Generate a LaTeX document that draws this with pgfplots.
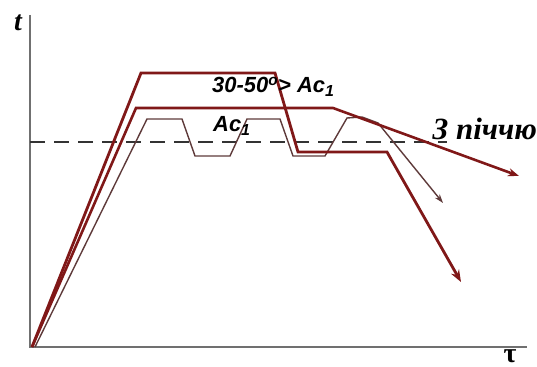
\documentclass[border=0pt]{standalone}
\usepackage{fontspec}
\setmainfont{Liberation Serif}
\newfontfamily\arialf{Liberation Sans}
\usepackage{pgfplots}
\pgfplotsset{compat=1.18}
\usetikzlibrary{arrows.meta}
\definecolor{dred}{HTML}{801818}
\definecolor{thinc}{HTML}{5E3A3A}
\definecolor{axc}{HTML}{707070}
\begin{document}
\begin{tikzpicture}
\begin{axis}[
  scale only axis, width=537bp, height=367bp,
  xmin=0, xmax=537, ymin=0, ymax=367,
  hide axis, clip=false,
]
\coordinate (SW) at (axis cs:0,0);
\coordinate (NE) at (axis cs:537,367);
% axes
\addplot[axc, line width=2bp] coordinates {(30,352) (30,20) (527,20)};
% dashed Ac1 level
\addplot[black!80, line width=1.5bp, dash pattern=on 15bp off 9bp] coordinates {(30,225) (447,225)};
% thin cycling line
\addplot[thinc, line width=1.4bp, -{Stealth[length=9bp,width=6bp]}] coordinates {
(35,20) (147,248) (182,248) (195,211) (230,211) (247,248) (280,248) (293,211) (325,211) (347,249) (362,250) (378,244) (443,164)};
% middle line (furnace cooling)
\addplot[dred, line width=2.6bp, -{Stealth[length=11bp,width=8bp]}] coordinates {
(32,20) (136,259) (333,259) (519,191)};
% top thick line
\addplot[dred, line width=2.8bp, -{Stealth[length=12bp,width=9bp]}] coordinates {
(32,20) (141,294) (275,294) (298,215) (387,215) (461,85)};
% labels
\node[anchor=west, inner sep=0] at (axis cs:212,280) {\arialf\bfseries\itshape\fontsize{22}{26}\selectfont 30-50\textsuperscript{o}> Ac\raisebox{-0.35ex}{\fontsize{16}{18}\selectfont 1}};
\node[anchor=west, inner sep=0] at (axis cs:213,241) {\arialf\bfseries\itshape\fontsize{22}{25}\selectfont Ac\raisebox{-0.35ex}{\fontsize{16}{18}\selectfont 1}};
\node[anchor=east, inner sep=0] at (axis cs:537,238) {\bfseries\itshape\fontsize{31}{34}\selectfont З піччю};
\node[inner sep=0] at (axis cs:18,344) {\bfseries\itshape\fontsize{28}{30}\selectfont t};
\node[inner sep=0] at (axis cs:510,11) {\bfseries\fontsize{28}{30}\selectfont τ};
\end{axis}
\pgfresetboundingbox
\path[use as bounding box] (SW) rectangle (NE);
\end{tikzpicture}
\end{document}
